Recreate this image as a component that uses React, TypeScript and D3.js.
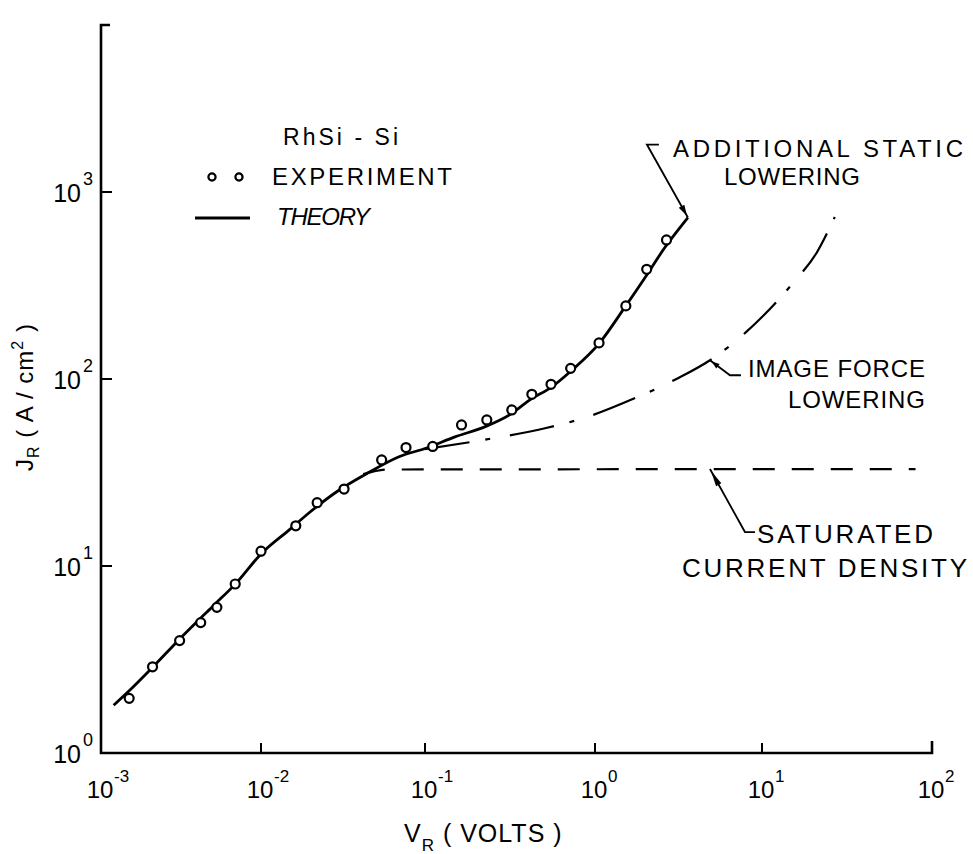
import React from "react";
import * as d3 from "d3";

// Axis decades and their exponent labels
const xDecades = [1e-3, 1e-2, 1e-1, 1, 10, 100];
const xTickExp = ["-3", "-2", "-1", "0", "1", "2"];
const yDecades = [1, 10, 100, 1000];
const yTickExp = ["0", "1", "2", "3"];

// Measured reverse current density, RhSi - Si diode
const expV = [0.0015, 0.0021, 0.0031, 0.0042, 0.0053, 0.0069, 0.01, 0.0163, 0.022, 0.0321, 0.0544, 0.0766, 0.111, 0.164, 0.231, 0.324, 0.425, 0.551, 0.719, 1.057, 1.53, 2.04, 2.68];
const expJ = [1.96, 2.89, 3.99, 4.98, 6.01, 8.01, 12.0, 16.4, 21.8, 25.8, 36.9, 43.0, 43.6, 56.8, 60.4, 68.3, 82.8, 93.7, 114, 156, 246, 386, 554];

// Theory with additional static lowering
const theoryV = [0.0012, 0.0015, 0.002, 0.003, 0.005, 0.007, 0.01, 0.015, 0.02, 0.03, 0.045, 0.07, 0.1, 0.15, 0.23, 0.32, 0.42, 0.55, 0.72, 1.06, 1.5, 2.0, 2.6, 3.6];
const theoryJ = [1.8, 2.15, 2.75, 3.95, 6.1, 8.1, 11.6, 15.7, 19.5, 25.5, 31.5, 38.5, 42.5, 49, 56, 65, 78, 90, 110, 155, 240, 350, 500, 730];

// Image force lowering only
const imageV = [0.1, 0.219, 0.508, 0.91, 1.74, 3.14, 4.88, 8.02, 15.2, 21.1, 26.8];
const imageJ = [42.2, 47.2, 54.5, 62.9, 79.1, 101, 126, 178, 326, 478, 735];

// Saturated current density
const satV = [0.042, 0.06, 80];
const satJ = [31, 32.8, 33];

const FONT = "'Liberation Sans', Arial, sans-serif";

type P = [number, number];
const zip = (a: number[], b: number[]): P[] => a.map((v, i) => [v, b[i]]);

function Arrowhead({ tip, from, len = 13, w = 3.2 }: { tip: P; from: P; len?: number; w?: number }) {
  const dx = from[0] - tip[0];
  const dy = from[1] - tip[1];
  const d = Math.hypot(dx, dy);
  const ux = dx / d, uy = dy / d;
  const bx = tip[0] + ux * len, by = tip[1] + uy * len;
  const pts = [
    [tip[0] + ux * 2, tip[1] + uy * 2],
    [bx - uy * w, by + ux * w],
    [bx + uy * w, by - ux * w],
  ];
  return <polygon points={pts.map((p) => p.join(",")).join(" ")} fill="#000" />;
}

export default function App() {
  const W = 973, H = 854;
  const x = d3.scaleLog().domain(xDecades).range([101, 261, 425, 595, 762, 932]);
  const y = d3.scaleLog().domain([1, 1000]).range([753, 192]);
  const yTop = 25;

  const line = d3
    .line<P>()
    .x((d) => x(d[0]))
    .y((d) => y(d[1]))
    .curve(d3.curveMonotoneX);

  const theory = zip(theoryV, theoryJ);
  const image = zip(imageV, imageJ);
  const sat = zip(satV, satJ);
  const exp = zip(expV, expJ);

  const x0 = x(xDecades[0]);
  const x1 = x(xDecades[xDecades.length - 1]);
  const y0 = y(yDecades[0]);

  // Leader anchors on the curves
  const staticTip: P = [x(theoryV[theoryV.length - 1]), y(theoryJ[theoryJ.length - 1])];
  const staticBend: P = [staticTip[0] - 41, staticTip[1] - 73];
  const imageTip: P = [x(imageV[6]), y(imageJ[6])];
  const imageBend: P = [imageTip[0] + 20, imageTip[1] + 15];
  const satTip: P = [x(4.88), y(satJ[2])];
  const satBend: P = [satTip[0] + 35, satTip[1] + 63];

  return (
    <svg
      width={W}
      height={H}
      viewBox={`0 0 ${W} ${H}`}
      style={{ position: "absolute", left: 0, top: 0, background: "#fff" }}
      fontFamily={FONT}
    >
      <rect width={W} height={H} fill="#fff" />

      {/* axes */}
      <path
        d={`M${x0 + 9},${yTop} H${x0} V${y0} H${x1} V${y0 - 12}`}
        fill="none"
        stroke="#000"
        strokeWidth={2.6}
      />
      {xDecades.slice(1, -1).map((v) => (
        <line key={v} x1={x(v)} x2={x(v)} y1={y0} y2={y0 - 10} stroke="#000" strokeWidth={2} />
      ))}
      {yDecades.slice(1).map((v) => (
        <line key={v} x1={x0} x2={x0 + 11} y1={y(v)} y2={y(v)} stroke="#000" strokeWidth={2} />
      ))}

      {/* x tick labels */}
      {xDecades.map((v, i) => (
        <g key={v}>
          <text x={x(v) - 1} y={798} fontSize={24} textAnchor="middle">10</text>
          <text x={x(v) + 13} y={782} fontSize={17}>{xTickExp[i]}</text>
        </g>
      ))}
      {/* y tick labels */}
      {yDecades.map((v, i) => (
        <g key={v}>
          <text x={81} y={y(v) + 10} fontSize={25} textAnchor="end">10</text>
          <text x={83} y={y(v) - 7} fontSize={18}>{yTickExp[i]}</text>
        </g>
      ))}

      {/* axis titles */}
      <text x={404} y={842} fontSize={25} letterSpacing={1}>
        V<tspan dy={9} fontSize={17}>R</tspan>
        <tspan dy={-9}> ( VOLTS )</tspan>
      </text>
      <text transform="translate(33,397) rotate(-90)" fontSize={24} textAnchor="middle" letterSpacing={1}>
        J<tspan dy={6} fontSize={16}>R</tspan>
        <tspan dy={-6}> ( A / cm</tspan>
        <tspan dy={-10} fontSize={16}>2</tspan>
        <tspan dy={10}> )</tspan>
      </text>

      {/* curves */}
      <path d={line(sat) ?? ""} fill="none" stroke="#000" strokeWidth={2.2} strokeDasharray="22 17" />
      <path d={line(image) ?? ""} fill="none" stroke="#000" strokeWidth={2.2} strokeDasharray="45 16 5 20" />
      <path d={line(theory) ?? ""} fill="none" stroke="#000" strokeWidth={2.8} />

      {/* experimental points */}
      {exp.map((d, i) => (
        <circle key={i} cx={x(d[0])} cy={y(d[1])} r={4.5} fill="#fff" stroke="#000" strokeWidth={2.2} />
      ))}

      {/* legend */}
      <text x={283} y={145} fontSize={23} textLength={115} lengthAdjust="spacing">RhSi - Si</text>
      <circle cx={212} cy={177} r={3.6} fill="#fff" stroke="#000" strokeWidth={2.2} />
      <circle cx={239} cy={177} r={3.6} fill="#fff" stroke="#000" strokeWidth={2.2} />
      <text x={272} y={185} fontSize={24} textLength={180} lengthAdjust="spacing">EXPERIMENT</text>
      <line x1={195} x2={250} y1={218} y2={218} stroke="#000" strokeWidth={2.8} />
      <text x={277} y={225} fontSize={24} textLength={93} lengthAdjust="spacing" fontStyle="italic">THEORY</text>

      {/* annotation: additional static lowering */}
      <path
        d={`M${staticBend[0] + 12},${staticBend[1]} H${staticBend[0]} L${staticTip[0]},${staticTip[1]}`}
        fill="none"
        stroke="#000"
        strokeWidth={1.8}
      />
      <Arrowhead tip={staticTip} from={staticBend} />
      <text x={673} y={157} fontSize={24} textLength={290} lengthAdjust="spacing">ADDITIONAL  STATIC</text>
      <text x={724} y={185} fontSize={24} textLength={136} lengthAdjust="spacing">LOWERING</text>

      {/* annotation: image force lowering */}
      <path
        d={`M${imageTip[0]},${imageTip[1]} L${imageBend[0]},${imageBend[1]} H${imageBend[0] + 11}`}
        fill="none"
        stroke="#000"
        strokeWidth={1.8}
      />
      <Arrowhead tip={imageTip} from={imageBend} len={10} w={2.8} />
      <text x={748} y={377} fontSize={24} textLength={177} lengthAdjust="spacing">IMAGE FORCE</text>
      <text x={788} y={408} fontSize={24} textLength={137} lengthAdjust="spacing">LOWERING</text>

      {/* annotation: saturated current density */}
      <path
        d={`M${satTip[0]},${satTip[1]} L${satBend[0]},${satBend[1]} H${satBend[0] + 10}`}
        fill="none"
        stroke="#000"
        strokeWidth={1.8}
      />
      <Arrowhead tip={satTip} from={satBend} len={18} w={3} />
      <text x={757} y={543} fontSize={26} textLength={176} lengthAdjust="spacing">SATURATED</text>
      <text x={682} y={577} fontSize={26} textLength={285} lengthAdjust="spacing">CURRENT DENSITY</text>
    </svg>
  );
}
